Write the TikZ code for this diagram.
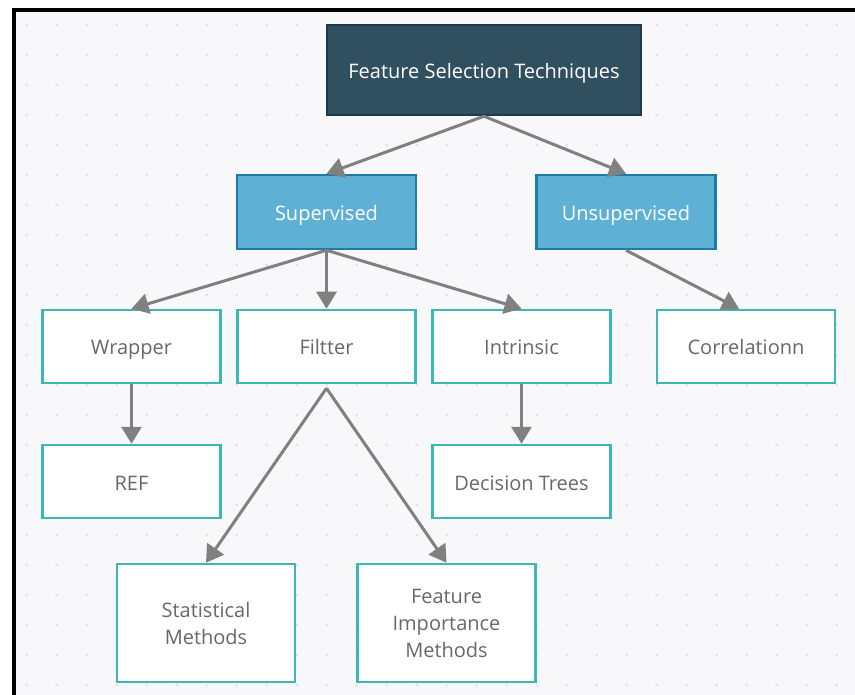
\documentclass[tikz,border=0pt]{standalone}
\usepackage{fontspec}
\setmainfont{Open Sans}
\usetikzlibrary{arrows.meta}

\definecolor{paper}{HTML}{F8F8FA}
\definecolor{griddot}{HTML}{DEDEE3}
\definecolor{rootfill}{HTML}{30505F}
\definecolor{rootedge}{HTML}{1B3A4A}
\definecolor{groupfill}{HTML}{5FB0D5}
\definecolor{groupedge}{HTML}{1A7CA7}
\definecolor{leafedge}{HTML}{3BB7B4}
\definecolor{leaftext}{HTML}{686868}
\definecolor{linkgray}{HTML}{808080}

\tikzset{
  basebox/.style={rectangle, line width=2.5pt, align=center, inner sep=0pt,
    font=\fontsize{20}{27}\selectfont},
  oneline/.style={text height=21pt, text depth=4pt},
  rootbox/.style={basebox, oneline, fill=rootfill, draw=rootedge, text=white,
    minimum width=314pt, minimum height=90pt},
  groupbox/.style={basebox, oneline, fill=groupfill, draw=groupedge, text=white,
    minimum width=179pt, minimum height=74pt},
  leafbox/.style={basebox, oneline, fill=white, draw=leafedge, text=leaftext,
    minimum width=178pt, minimum height=73pt},
  tallleaf/.style={basebox, fill=white, draw=leafedge, text=leaftext,
    minimum width=178pt, minimum height=118pt},
  link/.style={draw=linkgray, line width=3pt,
    -{Triangle[length=17pt,width=20pt]}},
}

\begin{document}
\begin{tikzpicture}[x=1pt,y=-1pt]
\useasboundingbox (0,0) rectangle (855,695);
\fill[white] (0,0) rectangle (855,695);
\fill[paper] (14,10) rectangle (855,695);

% dotted canvas grid
\foreach \i in {0,...,27}{
  \foreach \j in {0,...,22}{
    \fill[griddot] (26.7+30*\i, 25+30*\j) circle (1.4pt);
  }
}

% window frame (left and top edges)
\draw[black, line width=3.4pt] (14,695) -- (14,10) -- (855,10);

% nodes
\node[rootbox]  (root)  at (484,70)    {Feature Selection Techniques};
\node[groupbox] (sup)   at (326.5,212) {Supervised};
\node[groupbox] (unsup) at (626,212)   {Unsupervised};

\node[leafbox] (wrap) at (131.5,346.5) {Wrapper};
\node[leafbox] (filt) at (326.5,346.5) {Filtter};
\node[leafbox] (intr) at (521.5,346.5) {Intrinsic};
\node[leafbox] (corr) at (746,346.5)   {Correlationn};

\node[leafbox] (ref) at (131.5,481.5) {REF};
\node[leafbox] (dt)  at (521.5,481.5) {Decision Trees};

\node[tallleaf] (stat) at (206,623)   {Statistical\\Methods};
\node[tallleaf] (fim)  at (446.5,623) {Feature\\Importance\\Methods};

% helper points for connector ends
\coordinate (fsplit) at ([yshift=-4pt]filt.south);
\coordinate (corrin) at ([xshift=-7pt]corr.north);

% connectors
\draw[link] (root.south) -- (sup.north);
\draw[link] (root.south) -- (unsup.north);
\draw[link] (sup.south) -- (wrap.north);
\draw[link] (sup.south) -- (filt.north);
\draw[link] (sup.south) -- (intr.north);
\draw[link] (unsup.south) -- (corrin);
\draw[link] (wrap.south) -- (ref.north);
\draw[link] (intr.south) -- (dt.north);
\draw[link] (fsplit) -- (stat.north);
\draw[link] (fsplit) -- (fim.north);
\end{tikzpicture}
\end{document}
